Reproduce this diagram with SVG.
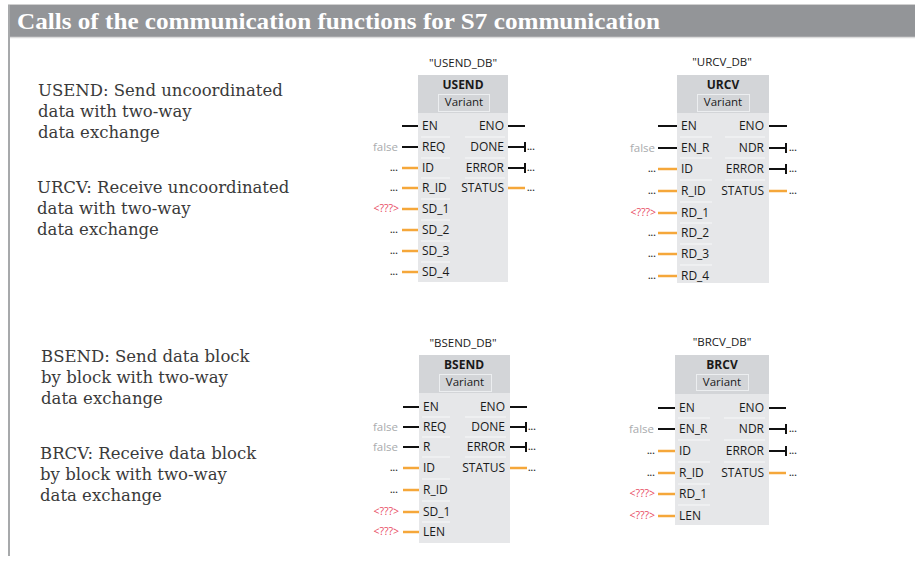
<svg xmlns="http://www.w3.org/2000/svg" width="915" height="561" viewBox="0 0 915 561">
<style>
.title{font-family:"Liberation Serif",serif;font-weight:bold;font-size:23px;fill:#fff}
.desc{font-family:"DejaVu Serif","Liberation Serif",serif;font-size:16.5px;fill:#3a3a3a}
.blk{fill:#e6e7e9}
.hdr{fill:#d3d5d8}
.var{fill:none;stroke:#eceef0;stroke-width:1}
.lbl{font-family:"Open Sans","Noto Sans",sans-serif;font-size:12px;fill:#1a1a1a}
.nm{font-family:"Open Sans","Noto Sans",sans-serif;font-size:12px;font-weight:bold;fill:#1a1a1a;text-anchor:middle}
.db{font-family:"Open Sans","Noto Sans",sans-serif;font-size:11.5px;fill:#1a1a1a;text-anchor:middle}
.r{text-anchor:end}
.fal{font-family:"Open Sans","Noto Sans",sans-serif;font-size:11.5px;fill:#a9abae;text-anchor:end}
.red{font-family:"Open Sans","Noto Sans",sans-serif;font-size:10.5px;fill:#e84a5f;text-anchor:end}
.dot{font-family:"Open Sans","Noto Sans",sans-serif;font-size:9px;fill:#333;font-weight:bold}
.bk{stroke:#111;stroke-width:2}
.or{stroke:#f5a73a;stroke-width:2.5}
.sep{stroke:#f7f8f9;stroke-width:1}
</style>

<g id="frame">
<rect x="8" y="5" width="907" height="32" fill="#939598"/>
<line x1="8" y1="4.5" x2="915" y2="4.5" stroke="#d0d0d0" stroke-width="1"/>
<line x1="8" y1="37.5" x2="915" y2="37.5" stroke="#dcdcdc" stroke-width="1.5"/>
<line x1="9" y1="5" x2="9" y2="556" stroke="#a7a9ab" stroke-width="2"/>
<text class="title" x="17" y="29" textLength="643" lengthAdjust="spacingAndGlyphs">Calls of the communication functions for S7 communication</text>
</g>

<g id="descriptions">
<text class="desc" x="38" y="96">USEND: Send uncoordinated</text>
<text class="desc" x="38" y="117">data with two-way</text>
<text class="desc" x="38" y="138">data exchange</text>
<text class="desc" x="37" y="193">URCV: Receive uncoordinated</text>
<text class="desc" x="37" y="214">data with two-way</text>
<text class="desc" x="37" y="235">data exchange</text>
<text class="desc" x="41" y="362">BSEND: Send data block</text>
<text class="desc" x="41" y="383">by block with two-way</text>
<text class="desc" x="41" y="404">data exchange</text>
<text class="desc" x="40" y="459">BRCV: Receive data block</text>
<text class="desc" x="40" y="480">by block with two-way</text>
<text class="desc" x="40" y="501">data exchange</text>
</g>

<g id="usend">
<text class="db" x="463" y="67">"USEND_DB"</text>
<rect class="blk" x="418" y="75" width="90" height="207"/>
<rect class="hdr" x="418" y="75" width="90" height="38"/>
<text class="nm" x="463" y="89">USEND</text>
<rect class="var" x="438.5" y="94.5" width="51" height="17"/>
<text class="db" x="464" y="106">Variant</text>
<g>
<line class="sep" x1="421" y1="137" x2="450" y2="137"/><line class="sep" x1="421" y1="158" x2="450" y2="158"/>
<line class="sep" x1="421" y1="178" x2="450" y2="178"/><line class="sep" x1="421" y1="199" x2="450" y2="199"/>
<line class="sep" x1="421" y1="220" x2="450" y2="220"/><line class="sep" x1="421" y1="241" x2="450" y2="241"/>
<line class="sep" x1="421" y1="262" x2="450" y2="262"/>
<line class="sep" x1="465" y1="137" x2="505" y2="137"/><line class="sep" x1="465" y1="158" x2="505" y2="158"/>
<line class="sep" x1="465" y1="178" x2="505" y2="178"/>
</g>
<text class="lbl" x="422" y="130">EN</text>
<text class="lbl" x="422" y="151">REQ</text>
<text class="lbl" x="422" y="172">ID</text>
<text class="lbl" x="422" y="192">R_ID</text>
<text class="lbl" x="422" y="213">SD_1</text>
<text class="lbl" x="422" y="234">SD_2</text>
<text class="lbl" x="422" y="255">SD_3</text>
<text class="lbl" x="422" y="276">SD_4</text>
<text class="lbl r" x="504" y="130">ENO</text>
<text class="lbl r" x="504" y="151">DONE</text>
<text class="lbl r" x="504" y="172">ERROR</text>
<text class="lbl r" x="504" y="192">STATUS</text>
<text class="fal" x="398" y="151">false</text>
<text class="dot" x="390" y="171">...</text>
<text class="dot" x="390" y="191">...</text>
<text class="red" x="399" y="212">&lt;???&gt;</text>
<text class="dot" x="390" y="233">...</text>
<text class="dot" x="390" y="254">...</text>
<text class="dot" x="390" y="275">...</text>
<text class="dot" x="527" y="150">...</text>
<text class="dot" x="527" y="171">...</text>
<text class="dot" x="527" y="191">...</text>
</g>

<g id="urcv">
<text class="db" x="722" y="66">"URCV_DB"</text>
<rect class="blk" x="677" y="75" width="92" height="208"/>
<rect class="hdr" x="677" y="75" width="92" height="38"/>
<text class="nm" x="723" y="89">URCV</text>
<rect class="var" x="697.5" y="94.5" width="52" height="17"/>
<text class="db" x="723" y="106">Variant</text>
<g>
<line class="sep" x1="680" y1="137" x2="712" y2="137"/><line class="sep" x1="680" y1="158" x2="712" y2="158"/>
<line class="sep" x1="680" y1="180" x2="712" y2="180"/><line class="sep" x1="680" y1="202" x2="712" y2="202"/>
<line class="sep" x1="680" y1="223" x2="712" y2="223"/><line class="sep" x1="680" y1="244" x2="712" y2="244"/>
<line class="sep" x1="680" y1="265" x2="712" y2="265"/>
<line class="sep" x1="725" y1="137" x2="765" y2="137"/><line class="sep" x1="725" y1="158" x2="765" y2="158"/>
<line class="sep" x1="725" y1="180" x2="765" y2="180"/>
</g>
<text class="lbl" x="681" y="130">EN</text>
<text class="lbl" x="681" y="152">EN_R</text>
<text class="lbl" x="681" y="173">ID</text>
<text class="lbl" x="681" y="195">R_ID</text>
<text class="lbl" x="681" y="217">RD_1</text>
<text class="lbl" x="681" y="237">RD_2</text>
<text class="lbl" x="681" y="258">RD_3</text>
<text class="lbl" x="681" y="280">RD_4</text>
<text class="lbl r" x="764" y="130">ENO</text>
<text class="lbl r" x="764" y="152">NDR</text>
<text class="lbl r" x="764" y="173">ERROR</text>
<text class="lbl r" x="764" y="195">STATUS</text>
<text class="fal" x="655" y="152">false</text>
<text class="dot" x="648" y="172">...</text>
<text class="dot" x="648" y="194">...</text>
<text class="red" x="656" y="216">&lt;???&gt;</text>
<text class="dot" x="648" y="236">...</text>
<text class="dot" x="648" y="257">...</text>
<text class="dot" x="648" y="279">...</text>
<text class="dot" x="789" y="151">...</text>
<text class="dot" x="789" y="172">...</text>
<text class="dot" x="789" y="194">...</text>
</g>

<g id="bsend">
<text class="db" x="463" y="347">"BSEND_DB"</text>
<rect class="blk" x="419" y="355" width="91" height="188"/>
<rect class="hdr" x="419" y="355" width="91" height="38"/>
<text class="nm" x="464" y="369">BSEND</text>
<rect class="var" x="439.5" y="374.5" width="52" height="17"/>
<text class="db" x="465" y="386">Variant</text>
<g>
<line class="sep" x1="422" y1="417" x2="450" y2="417"/><line class="sep" x1="422" y1="437" x2="450" y2="437"/>
<line class="sep" x1="422" y1="457" x2="450" y2="457"/><line class="sep" x1="422" y1="479" x2="450" y2="479"/>
<line class="sep" x1="422" y1="501" x2="450" y2="501"/><line class="sep" x1="422" y1="522" x2="450" y2="522"/>
<line class="sep" x1="465" y1="417" x2="506" y2="417"/><line class="sep" x1="465" y1="437" x2="506" y2="437"/>
<line class="sep" x1="465" y1="457" x2="506" y2="457"/>
</g>
<text class="lbl" x="423" y="411">EN</text>
<text class="lbl" x="423" y="431">REQ</text>
<text class="lbl" x="423" y="451">R</text>
<text class="lbl" x="423" y="472">ID</text>
<text class="lbl" x="423" y="494">R_ID</text>
<text class="lbl" x="423" y="516">SD_1</text>
<text class="lbl" x="423" y="536">LEN</text>
<text class="lbl r" x="505" y="411">ENO</text>
<text class="lbl r" x="505" y="431">DONE</text>
<text class="lbl r" x="505" y="451">ERROR</text>
<text class="lbl r" x="505" y="472">STATUS</text>
<text class="fal" x="398" y="431">false</text>
<text class="fal" x="398" y="451">false</text>
<text class="dot" x="390" y="471">...</text>
<text class="dot" x="390" y="493">...</text>
<text class="red" x="399" y="515">&lt;???&gt;</text>
<text class="red" x="399" y="535">&lt;???&gt;</text>
<text class="dot" x="528" y="430">...</text>
<text class="dot" x="528" y="450">...</text>
<text class="dot" x="528" y="471">...</text>
</g>

<g id="brcv">
<text class="db" x="722" y="346">"BRCV_DB"</text>
<rect class="blk" x="675" y="355" width="94" height="170"/>
<rect class="hdr" x="675" y="355" width="94" height="39"/>
<text class="nm" x="722" y="369">BRCV</text>
<rect class="var" x="696.5" y="374.5" width="52" height="16"/>
<text class="db" x="722" y="386">Variant</text>
<g>
<line class="sep" x1="678" y1="418" x2="710" y2="418"/><line class="sep" x1="678" y1="440" x2="710" y2="440"/>
<line class="sep" x1="678" y1="462" x2="710" y2="462"/><line class="sep" x1="678" y1="484" x2="710" y2="484"/>
<line class="sep" x1="678" y1="505" x2="710" y2="505"/>
<line class="sep" x1="724" y1="418" x2="765" y2="418"/><line class="sep" x1="724" y1="440" x2="765" y2="440"/>
<line class="sep" x1="724" y1="462" x2="765" y2="462"/>
</g>
<text class="lbl" x="679" y="412">EN</text>
<text class="lbl" x="679" y="433">EN_R</text>
<text class="lbl" x="679" y="455">ID</text>
<text class="lbl" x="679" y="477">R_ID</text>
<text class="lbl" x="679" y="498">RD_1</text>
<text class="lbl" x="679" y="520">LEN</text>
<text class="lbl r" x="764" y="412">ENO</text>
<text class="lbl r" x="764" y="433">NDR</text>
<text class="lbl r" x="764" y="455">ERROR</text>
<text class="lbl r" x="764" y="477">STATUS</text>
<text class="fal" x="654" y="433">false</text>
<text class="dot" x="647" y="454">...</text>
<text class="dot" x="647" y="476">...</text>
<text class="red" x="655" y="497">&lt;???&gt;</text>
<text class="red" x="655" y="519">&lt;???&gt;</text>
<text class="dot" x="789" y="432">...</text>
<text class="dot" x="789" y="454">...</text>
<text class="dot" x="789" y="476">...</text>
</g>

<g id="connectors">
<line class="bk" x1="402" y1="126" x2="418" y2="126"/>
<line class="bk" x1="402" y1="147" x2="418" y2="147"/>
<line class="or" x1="402" y1="168" x2="418" y2="168"/>
<line class="or" x1="402" y1="188" x2="418" y2="188" stroke-width="2"/>
<line class="or" x1="402" y1="209" x2="418" y2="209" stroke-width="2"/>
<line class="or" x1="402" y1="230" x2="418" y2="230" stroke-width="2"/>
<line class="or" x1="402" y1="251" x2="418" y2="251"/>
<line class="or" x1="402" y1="272" x2="418" y2="272"/>
<line class="bk" x1="508" y1="126" x2="525" y2="126"/>
<line class="bk" x1="508" y1="147" x2="525" y2="147" stroke-width="2.5"/><line class="bk" x1="525" y1="142" x2="525" y2="152" stroke-width="1.5"/>
<line class="bk" x1="508" y1="168" x2="525" y2="168" stroke-width="2.5"/><line class="bk" x1="525" y1="163" x2="525" y2="173" stroke-width="1.5"/>
<line class="or" x1="508" y1="188" x2="525" y2="188" stroke-width="2"/>
<line class="bk" x1="658" y1="126" x2="677" y2="126"/>
<line class="bk" x1="658" y1="148" x2="677" y2="148" stroke-width="2.5"/>
<line class="or" x1="658" y1="169" x2="677" y2="169"/>
<line class="or" x1="658" y1="191" x2="677" y2="191" stroke-width="2"/>
<line class="or" x1="658" y1="213" x2="677" y2="213" stroke-width="2"/>
<line class="or" x1="658" y1="233" x2="677" y2="233"/>
<line class="or" x1="658" y1="254" x2="677" y2="254"/>
<line class="or" x1="658" y1="276" x2="677" y2="276"/>
<line class="bk" x1="769" y1="126" x2="787" y2="126"/>
<line class="bk" x1="769" y1="148" x2="786" y2="148" stroke-width="2.5"/><line class="bk" x1="786" y1="143" x2="786" y2="153" stroke-width="1.5"/>
<line class="bk" x1="769" y1="169" x2="786" y2="169" stroke-width="2.5"/><line class="bk" x1="786" y1="164" x2="786" y2="174" stroke-width="1.5"/>
<line class="or" x1="769" y1="191" x2="787" y2="191" stroke-width="2"/>
<line class="bk" x1="403" y1="407" x2="419" y2="407" stroke-width="3"/>
<line class="bk" x1="403" y1="427" x2="419" y2="427"/>
<line class="bk" x1="403" y1="447" x2="419" y2="447"/>
<line class="or" x1="403" y1="468" x2="419" y2="468" stroke-width="2"/>
<line class="or" x1="403" y1="490" x2="419" y2="490" stroke-width="3"/>
<line class="or" x1="403" y1="512" x2="419" y2="512" stroke-width="3"/>
<line class="or" x1="403" y1="532" x2="419" y2="532" stroke-width="2"/>
<line class="bk" x1="510" y1="407" x2="527" y2="407" stroke-width="3"/>
<line class="bk" x1="510" y1="427" x2="526" y2="427"/><line class="bk" x1="526" y1="422" x2="526" y2="432" stroke-width="1.5"/>
<line class="bk" x1="510" y1="447" x2="526" y2="447"/><line class="bk" x1="526" y1="442" x2="526" y2="452" stroke-width="1.5"/>
<line class="or" x1="510" y1="468" x2="527" y2="468"/>
<line class="bk" x1="658" y1="408" x2="675" y2="408" stroke-width="3"/>
<line class="bk" x1="658" y1="429" x2="675" y2="429"/>
<line class="or" x1="658" y1="451" x2="675" y2="451" stroke-width="2"/>
<line class="or" x1="658" y1="473" x2="675" y2="473" stroke-width="2"/>
<line class="or" x1="658" y1="494" x2="675" y2="494" stroke-width="3"/>
<line class="or" x1="658" y1="516" x2="675" y2="516" stroke-width="3"/>
<line class="bk" x1="769" y1="408" x2="786" y2="408" stroke-width="3"/>
<line class="bk" x1="769" y1="429" x2="786" y2="429"/><line class="bk" x1="786" y1="424" x2="786" y2="434" stroke-width="1.5"/>
<line class="bk" x1="769" y1="451" x2="786" y2="451"/><line class="bk" x1="786" y1="446" x2="786" y2="456" stroke-width="1.5"/>
<line class="or" x1="769" y1="473" x2="786" y2="473"/>
</g>
</svg>
